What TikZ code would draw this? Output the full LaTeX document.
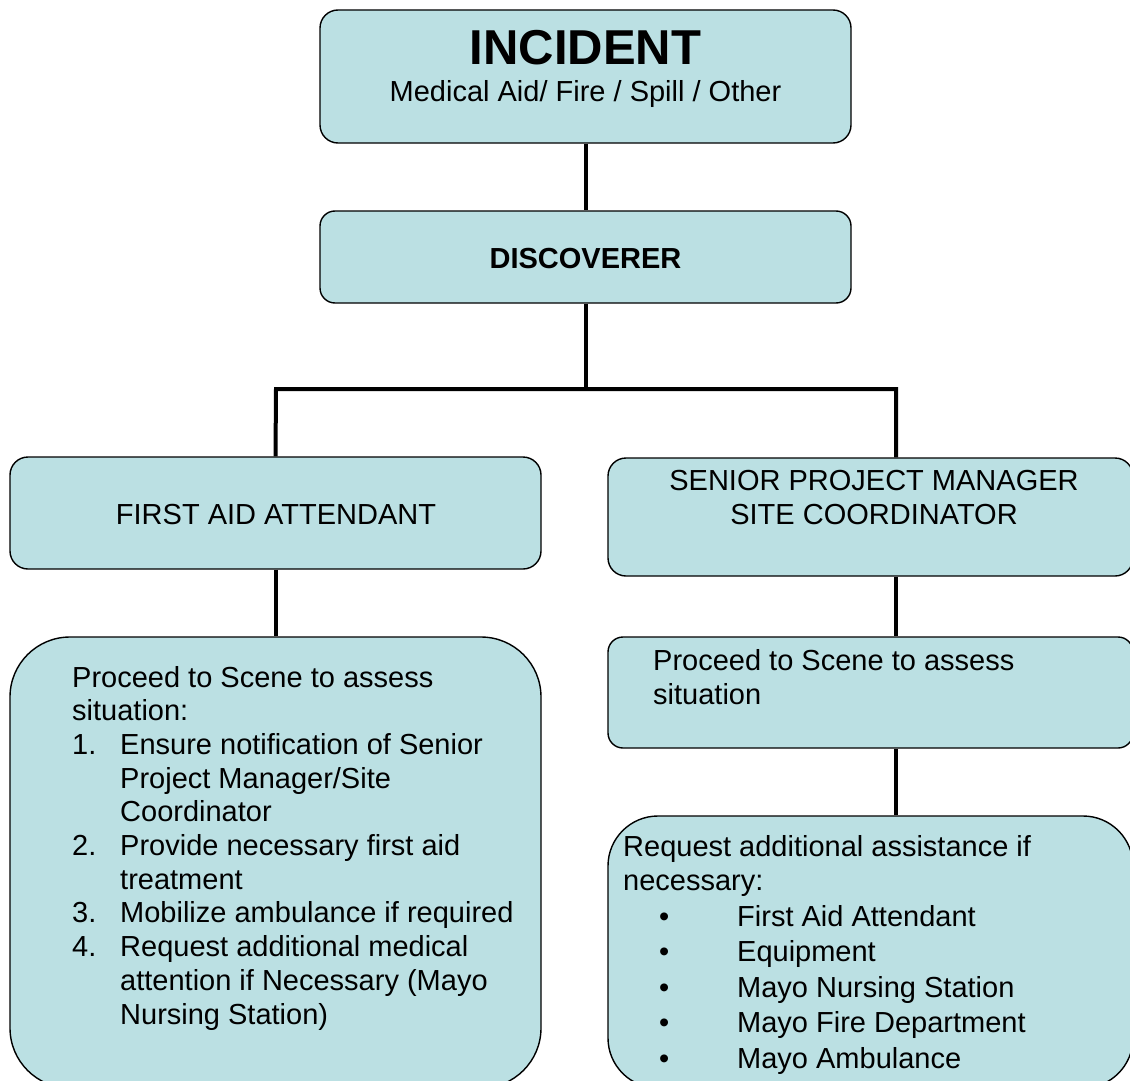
\documentclass[tikz,border=0pt]{standalone}
\usepackage{fontspec}
\setmainfont{Liberation Sans}
\definecolor{boxfill}{RGB}{187,224,227}
\begin{document}
\begin{tikzpicture}
  [x=1pt, y=-1pt,
  box/.style={draw=black, line width=1.4pt, fill=boxfill, rounded corners=#1, inner sep=0pt},
  box/.default=18pt,
  link/.style={line width=4pt},
  txt/.style={inner sep=0pt, font=\fontsize{29}{33.7}\selectfont},
  ]
  \useasboundingbox (0,0) rectangle (1130,1081);
  \clip (0,0) rectangle (1130,1081);
  \node[box, minimum width=531pt, minimum height=133pt] (incident) at (585.5,76.5) {};
  \node[box=15pt, minimum width=531pt, minimum height=92pt] (discoverer) at (585.5,257) {};
  \node[box, minimum width=531pt, minimum height=112pt] (firstaid) at (275.5,513) {};
  \node[box, minimum width=525pt, minimum height=118pt] (spm) at (870.5,517) {};
  \node[box=60pt, minimum width=531pt, minimum height=451pt] (fasteps) at (275.5,862.5) {};
  \node[box=15pt, minimum width=525pt, minimum height=111pt] (spmscene) at (870.5,692.5) {};
  \node[box=50pt, minimum width=525pt, minimum height=272pt] (spmassist) at (870.5,952) {};
  \coordinate (lcorner) at (276,389);
  \coordinate (rcorner) at (896,389);
  \draw[link] (incident.south) -- (discoverer.north);
  \draw[link] (discoverer.south) -- (discoverer.south |- lcorner);
  \draw[link] (firstaid.north) -- (lcorner) -- (rcorner) -- (rcorner |- spm.north);
  \draw[link] (firstaid.south) -- (fasteps.north);
  \draw[link] (rcorner |- spm.south) -- (rcorner |- spmscene.north);
  \draw[link] (rcorner |- spmscene.south) -- (rcorner |- spmassist.north);
  \node[txt, anchor=base] (incidentlbl) at (585.5,64) {\fontsize{49}{56}\selectfont\bfseries INCIDENT};
  \node[txt, anchor=base] (incidentsub) at (585.5,101) {Medical Aid/ Fire / Spill / Other};
  \node[txt, anchor=base] (discovererlbl) at (585.5,268) {\bfseries DISCOVERER};
  \node[txt, anchor=base] (firstaidlbl) at (276,524) {FIRST AID ATTENDANT};
  \node[txt, anchor=base, align=center] (spmlbl) at (874,524) {SENIOR PROJECT MANAGER\\SITE COORDINATOR};
  \node[txt, anchor=base west, align=left] (fastepslbl) at (72,1024)
    {Proceed to Scene to assess\\situation:\\
     \makebox[48pt][l]{1.}Ensure notification of Senior\\
     \hspace*{48pt}Project Manager/Site\\
     \hspace*{48pt}Coordinator\\
     \makebox[48pt][l]{2.}Provide necessary first aid\\
     \hspace*{48pt}treatment\\
     \makebox[48pt][l]{3.}Mobilize ambulance if required\\
     \makebox[48pt][l]{4.}Request additional medical\\
     \hspace*{48pt}attention if Necessary (Mayo\\
     \hspace*{48pt}Nursing Station)};
  \node[txt, anchor=base west, align=left] (spmscenelbl) at (653,704)
    {Proceed to Scene to assess\\situation};
  \node[txt, anchor=base west, align=left] (spmassistlbl) at (623,1068)
    {Request additional assistance if\\necessary:\\[1.8pt]
     \hspace*{36pt}\makebox[78pt][l]{\textbullet}First Aid Attendant\\[1.8pt]
     \hspace*{36pt}\makebox[78pt][l]{\textbullet}Equipment\\[1.8pt]
     \hspace*{36pt}\makebox[78pt][l]{\textbullet}Mayo Nursing Station\\[1.8pt]
     \hspace*{36pt}\makebox[78pt][l]{\textbullet}Mayo Fire Department\\[1.8pt]
     \hspace*{36pt}\makebox[78pt][l]{\textbullet}Mayo Ambulance};
\end{tikzpicture}
\end{document}
